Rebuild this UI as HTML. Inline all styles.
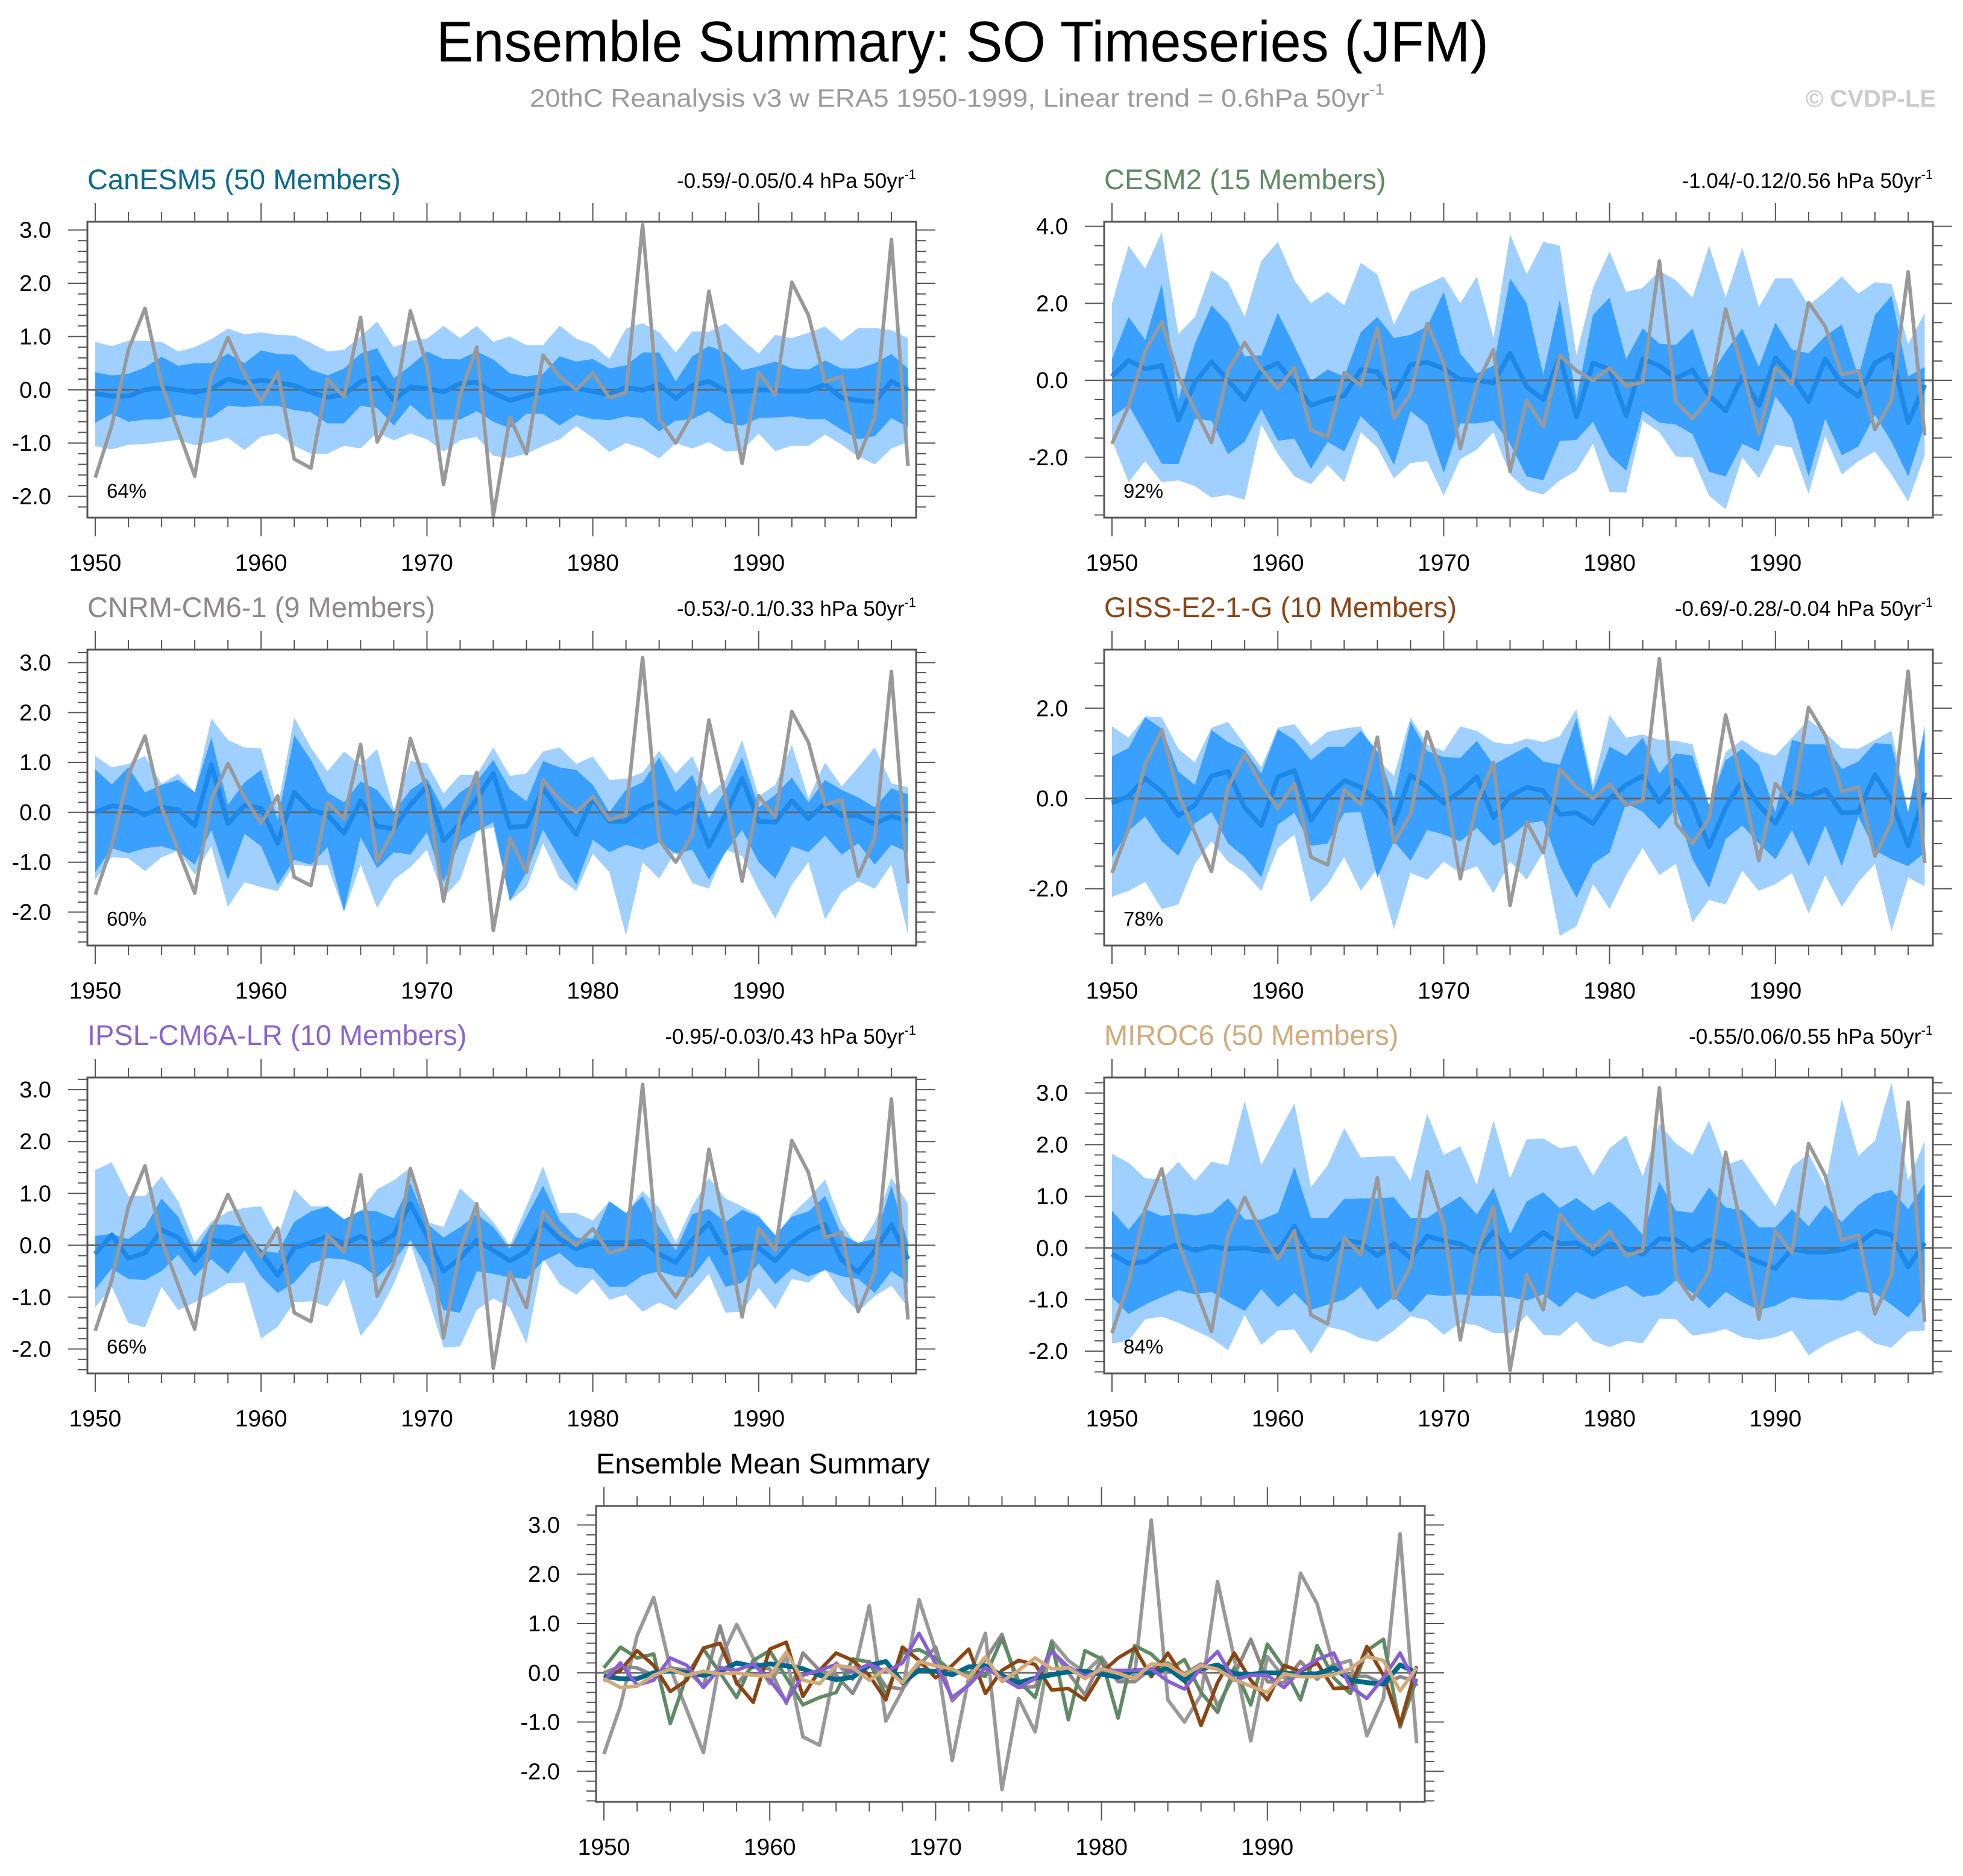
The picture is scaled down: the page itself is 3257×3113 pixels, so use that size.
<!DOCTYPE html>
<html><head><meta charset="utf-8"><style>
html,body{margin:0;padding:0;background:#fff;}
svg{display:block;font-family:"Liberation Sans",Arial,sans-serif;}
</style></head><body>
<svg id="chart" width="3257" height="3113" viewBox="0 0 3257 3113" xmlns="http://www.w3.org/2000/svg">
<rect x="0" y="0" width="3257" height="3113" fill="#fff"/>
<text x="724" y="102" font-size="96" textLength="1746" lengthAdjust="spacingAndGlyphs" fill="#000">Ensemble Summary: SO Timeseries (JFM)</text>
<text x="879" y="177" font-size="42" fill="#9a9a9a" textLength="1418" lengthAdjust="spacingAndGlyphs">20thC Reanalysis v3 w ERA5 1950-1999, Linear trend = 0.6hPa 50yr<tspan font-size="26" dy="-20">-1</tspan></text>
<text x="3212" y="177" font-size="40" font-weight="bold" fill="#cccccc" text-anchor="end">© CVDP-LE</text>
<g id="plots"></g>
</svg>
<script>
const years = [];
for (let y = 1950; y <= 1999; y++) years.push(y);

const obsValues = [-1.65,-0.67,0.75,1.53,0.1,-0.76,-1.62,0.25,0.98,0.3,-0.22,0.33,-1.3,-1.47,0.2,-0.13,1.36,-0.98,-0.35,1.48,0.45,-1.78,-0.1,0.8,-2.37,-0.52,-1.2,0.65,0.25,0.0,0.32,-0.15,-0.05,3.1,-0.55,-1.0,-0.45,1.85,0.3,-1.38,0.33,-0.1,2.02,1.4,0.15,0.25,-1.28,-0.52,2.82,-1.43];

const canMean = [-0.07,-0.12,-0.12,0.0,0.04,0.0,-0.05,0.02,0.2,0.13,0.18,0.14,0.08,-0.05,-0.14,-0.09,0.15,0.23,-0.2,0.05,0.03,-0.04,0.12,0.14,-0.06,-0.2,-0.11,-0.04,0.02,0.03,-0.03,-0.09,0.05,-0.01,0.1,-0.16,0.08,0.16,-0.02,-0.03,0.0,-0.01,-0.03,-0.02,0.1,-0.15,-0.2,-0.23,0.16,0.0];
const canInHi = [0.33,0.27,0.3,0.42,0.62,0.45,0.5,0.5,0.68,0.5,0.74,0.67,0.66,0.38,0.27,0.4,0.68,0.78,0.22,0.45,0.72,0.58,0.57,0.72,0.57,0.31,0.25,0.3,0.63,0.53,0.58,0.4,0.46,0.7,0.7,0.16,0.63,0.82,0.7,0.37,0.44,0.53,0.4,0.38,0.55,0.4,0.4,0.5,0.67,0.4];
const canInLo = [-0.62,-0.45,-0.6,-0.56,-0.55,-0.47,-0.53,-0.52,-0.3,-0.32,-0.3,-0.3,-0.38,-0.42,-0.63,-0.63,-0.3,-0.34,-0.67,-0.28,-0.55,-0.56,-0.56,-0.4,-0.6,-0.72,-0.45,-0.45,-0.67,-0.47,-0.55,-0.57,-0.5,-0.53,-0.78,-0.58,-0.55,-0.4,-0.62,-0.67,-0.53,-0.52,-0.5,-0.55,-0.55,-0.75,-0.93,-0.87,-0.53,-0.7];
const canOutHi = [0.9,0.82,0.92,0.92,0.9,0.72,0.8,0.95,1.15,1.04,1.08,1.03,1.02,0.88,0.72,0.75,1.0,1.28,0.8,0.92,0.96,1.2,0.97,1.2,0.9,1.0,0.84,0.84,1.2,0.96,0.85,0.58,1.15,1.25,1.08,0.7,1.1,1.09,1.25,0.95,0.68,1.03,0.97,1.07,1.19,0.92,1.16,1.16,1.12,0.97];
const canOutLo = [-1.06,-1.12,-1.03,-1.02,-0.98,-0.94,-1.04,-0.98,-0.9,-1.13,-0.88,-0.82,-1.05,-1.2,-1.2,-1.05,-1.1,-0.8,-0.95,-0.82,-0.93,-1.16,-0.95,-0.88,-1.24,-1.28,-1.2,-1.05,-0.93,-0.68,-0.9,-1.17,-1.0,-1.1,-1.29,-1.0,-1.1,-0.98,-1.16,-1.14,-0.82,-1.15,-1.05,-1.05,-0.84,-1.03,-1.25,-1.4,-1.1,-0.98];

const cesmMean = [0.1,0.52,0.3,0.38,-1.03,-0.05,0.48,0.0,-0.5,0.25,0.45,-0.1,-0.65,-0.5,-0.4,0.28,0.22,-0.45,0.4,0.47,0.3,0.02,0.0,-0.07,0.7,-0.17,-0.5,0.62,-0.95,0.45,0.28,-0.92,0.55,0.38,0.05,0.27,-0.4,-0.8,0.1,-0.65,0.58,0.1,-0.55,0.55,-0.1,-0.42,0.45,0.68,-1.1,-0.12];
const cesmInHi = [0.55,1.65,1.05,2.5,-0.5,0.95,1.95,1.5,0.62,0.65,1.75,0.9,-0.02,0.28,0.1,1.25,1.65,1.1,1.18,1.4,2.3,0.7,0.18,0.38,2.65,2.0,0.15,2.1,-0.5,1.7,2.15,0.55,1.35,0.95,0.92,1.35,0.05,0.75,1.35,0.35,1.5,0.8,0.7,1.15,1.45,0.1,1.7,2.2,0.1,0.35];
const cesmInLo = [-0.95,-0.65,-1.4,-2.17,-2.18,-1.0,-1.05,-1.92,-1.6,-0.75,-1.57,-1.52,-2.3,-1.6,-1.85,-0.93,-1.35,-2.2,-0.8,-1.15,-2.4,-1.12,-1.12,-1.05,-1.65,-2.5,-2.6,-1.58,-1.55,-1.08,-1.95,-2.35,-0.8,-1.1,-1.15,-1.4,-2.38,-2.5,-1.65,-1.85,-0.42,-1.0,-2.5,-1.0,-1.95,-1.72,-0.9,-1.6,-2.5,-1.15];
const cesmOutHi = [2.0,3.5,2.9,3.85,1.2,1.65,2.85,2.55,1.65,3.1,3.6,2.6,2.0,2.3,1.95,3.05,2.75,1.45,2.3,2.5,2.7,2.0,2.7,1.1,3.8,2.75,3.6,3.5,0.65,2.4,3.35,2.3,2.4,2.85,2.6,2.15,3.5,2.15,3.45,1.9,2.65,2.65,1.95,2.3,2.7,2.25,2.55,2.5,0.95,1.75];
const cesmOutLo = [-1.55,-2.65,-2.1,-2.65,-2.6,-2.75,-3.05,-2.98,-3.1,-1.15,-1.92,-2.5,-2.7,-2.2,-2.65,-1.35,-1.75,-2.55,-2.15,-2.1,-3.0,-2.05,-1.8,-1.35,-2.45,-2.85,-2.97,-2.6,-2.35,-1.65,-2.9,-2.92,-1.05,-1.35,-1.98,-2.0,-3.0,-3.35,-2.0,-2.55,-1.68,-1.75,-2.95,-1.45,-2.45,-2.1,-1.85,-2.45,-3.15,-1.95];

const cnrmMean = [0.0,0.13,0.1,-0.05,0.1,0.05,-0.27,0.95,-0.23,0.14,0.08,-0.62,0.4,0.05,-0.05,-0.42,0.23,-0.28,-0.33,0.15,0.52,-0.57,-0.23,0.27,0.78,-0.3,-0.28,0.48,0.0,-0.45,0.28,-0.18,-0.18,0.08,0.2,-0.02,0.18,-0.68,-0.05,0.68,-0.18,-0.2,0.23,-0.13,0.18,-0.07,-0.07,-0.23,-0.08,-0.17];
const cnrmInHi = [0.86,0.56,0.9,0.4,0.55,0.65,0.4,1.5,0.15,0.6,0.85,-0.15,1.55,1.05,0.4,0.2,0.62,0.45,0.0,0.45,0.68,0.05,0.4,0.62,1.05,0.47,0.22,1.03,0.9,0.85,0.55,0.0,0.45,0.6,1.1,0.4,0.75,-0.12,0.45,1.1,0.1,0.35,0.7,0.2,0.65,0.45,0.3,0.1,0.48,0.36];
const cnrmInLo = [-1.2,-0.72,-0.82,-0.72,-0.68,-0.78,-1.05,-0.35,-1.35,-0.43,-0.68,-1.45,-0.95,-1.05,-0.7,-1.98,-0.5,-1.12,-0.8,-0.85,-0.4,-1.4,-0.58,-0.38,-0.2,-1.78,-1.2,-0.35,-0.92,-1.45,-0.55,-0.8,-0.65,-0.75,-0.6,-0.83,-0.75,-1.35,-0.8,-0.35,-1.0,-1.33,-0.68,-0.8,-0.47,-0.85,-0.62,-1.05,-0.65,-0.8];
const cnrmOutHi = [1.13,0.9,0.97,1.13,0.57,0.77,0.4,1.88,1.45,1.3,1.28,0.1,1.9,1.3,0.82,1.22,0.95,1.27,0.05,1.03,0.98,0.38,0.75,0.75,1.3,0.73,0.78,1.22,1.3,0.97,1.12,0.65,0.67,0.8,1.23,0.78,1.13,0.35,0.65,1.45,0.32,0.55,1.35,0.28,1.0,0.52,0.9,1.3,0.58,0.5];
const cnrmOutLo = [-1.35,-0.9,-0.92,-1.18,-0.9,-0.77,-1.25,-0.68,-1.9,-1.4,-1.5,-1.58,-1.05,-1.08,-1.05,-2.0,-1.05,-1.92,-1.35,-1.1,-0.75,-1.7,-1.35,-0.38,-0.3,-1.78,-1.5,-0.62,-1.32,-1.58,-0.83,-1.2,-2.47,-1.0,-1.33,-0.78,-1.42,-1.53,-0.75,-0.88,-1.55,-2.13,-1.45,-1.0,-2.15,-1.6,-1.38,-1.53,-1.05,-2.45];

const gissMean = [-0.1,0.05,0.45,0.15,-0.38,-0.15,0.5,0.6,-0.2,-0.6,0.48,0.62,-0.48,0.05,0.4,0.25,-0.05,-0.55,0.52,0.25,-0.1,0.15,0.48,-0.42,0.05,0.25,0.17,-0.35,-0.32,-0.55,0.0,0.3,0.5,-0.08,0.4,-0.12,-1.07,-0.2,0.4,-0.15,-0.55,0.15,0.03,0.2,-0.32,-0.3,0.53,-0.05,-1.05,0.13];
const gissInHi = [0.93,1.12,1.8,1.55,0.6,0.3,1.52,1.25,1.08,0.55,1.53,1.3,0.85,1.15,1.15,1.5,1.05,0.0,1.7,1.05,0.92,0.9,1.28,0.75,0.95,1.15,0.82,0.75,1.78,0.15,1.15,0.95,1.35,0.55,1.0,0.95,-0.15,0.85,1.1,0.75,-0.3,1.3,1.2,1.2,0.65,0.82,1.23,1.2,-0.3,1.55];
const gissInLo = [-1.3,-0.72,-0.4,-0.95,-1.27,-0.55,-0.3,-1.0,-1.3,-1.75,-0.58,-0.32,-1.05,-1.0,-0.32,-0.3,-1.75,-0.95,-1.38,-0.7,-0.8,-0.95,-0.65,-1.05,-0.85,-0.55,-0.5,-1.5,-2.2,-1.45,-1.2,-0.1,-0.3,-0.68,-0.22,-1.35,-1.98,-0.9,-0.6,-1.0,-1.35,-0.7,-1.5,-0.6,-1.5,-0.4,-1.15,-1.35,-1.5,-1.2];
const gissOutHi = [1.6,1.35,1.82,1.8,1.1,0.8,1.57,1.7,1.2,0.7,1.57,1.65,1.18,1.48,1.55,1.6,0.87,0.5,1.8,1.2,1.05,1.6,1.5,1.25,1.2,1.33,1.25,1.38,1.98,0.3,1.85,1.35,1.42,1.3,1.28,1.2,-0.15,1.03,1.3,1.05,0.95,1.35,1.75,1.45,1.12,1.1,1.3,1.5,-0.3,1.65];
const gissOutLo = [-2.18,-2.05,-1.85,-2.45,-2.35,-1.45,-0.95,-1.4,-1.65,-2.05,-1.1,-0.8,-2.3,-1.9,-1.3,-2.05,-1.55,-2.9,-1.65,-1.8,-1.4,-1.65,-1.5,-2.1,-1.4,-1.8,-1.2,-3.05,-2.83,-1.9,-2.45,-1.7,-1.1,-1.7,-1.45,-2.75,-2.25,-2.35,-1.6,-2.05,-1.9,-1.65,-2.55,-1.7,-2.4,-1.85,-1.45,-2.95,-1.75,-1.95];

const ipslMean = [-0.17,0.2,-0.25,-0.15,0.3,0.15,-0.3,0.1,0.05,0.18,-0.15,-0.58,-0.05,0.05,0.17,0.03,0.17,0.02,0.2,0.8,0.18,-0.5,-0.25,0.1,-0.1,-0.3,-0.12,0.43,0.12,-0.07,0.05,0.05,0.05,0.08,-0.17,-0.33,0.1,0.43,-0.15,-0.05,-0.05,-0.3,0.05,0.27,0.4,-0.28,-0.52,-0.1,0.4,-0.27];
const ipslInHi = [0.18,0.22,0.12,0.35,0.9,0.55,-0.15,0.4,0.4,0.35,-0.1,-0.15,0.45,0.65,0.75,0.5,0.67,0.65,0.52,1.2,0.42,0.15,0.35,0.6,0.35,-0.07,0.55,1.15,0.48,0.15,0.13,0.85,0.62,0.95,0.35,-0.1,0.6,0.7,0.45,0.68,0.55,0.2,0.55,0.65,0.95,0.2,0.05,0.12,1.15,0.05];
const ipslInLo = [-0.85,-0.45,-0.65,-0.67,-0.5,-0.18,-0.6,-0.27,-0.55,-0.1,-0.6,-0.92,-0.72,-0.35,-0.25,-0.27,-0.38,-0.62,-0.3,0.1,-0.42,-1.25,-1.3,-0.5,-0.55,-0.62,-0.65,-0.3,-0.15,-0.42,-0.45,-0.8,-0.8,-0.58,-0.5,-0.6,-0.62,-0.2,-0.8,-0.72,-0.35,-0.75,-0.45,-0.6,-0.48,-0.6,-0.65,-0.92,-0.5,-0.72];
const ipslOutHi = [1.45,1.6,0.95,0.95,1.33,0.85,0.05,0.45,0.65,0.72,0.75,0.15,1.08,0.75,0.75,0.45,0.65,1.08,1.25,1.5,0.45,0.35,1.1,0.8,0.45,0.0,0.75,1.52,0.62,0.62,0.48,0.85,0.62,1.05,0.72,0.05,0.75,1.3,0.9,0.75,0.58,0.15,0.6,0.9,1.27,0.42,-0.05,0.45,1.3,0.8];
const ipslOutLo = [-1.2,-0.8,-1.5,-1.58,-0.8,-1.25,-1.1,-0.92,-0.73,-0.72,-1.8,-1.57,-1.1,-1.08,-1.18,-0.65,-1.75,-1.35,-0.75,0.05,-0.95,-1.97,-1.95,-1.25,-1.02,-1.2,-1.9,-0.25,-0.75,-0.95,-0.65,-1.05,-0.95,-1.28,-1.1,-1.25,-0.92,-0.55,-1.3,-1.28,-0.82,-1.23,-0.65,-0.72,-0.45,-0.95,-1.28,-0.98,-0.78,-1.2];

const mirocMean = [-0.12,-0.3,-0.27,-0.05,0.07,-0.05,0.03,-0.02,0.0,-0.05,-0.07,0.42,-0.15,-0.22,0.15,0.1,-0.15,0.08,-0.2,0.23,0.14,0.08,-0.1,0.32,-0.18,0.05,0.3,0.08,0.1,-0.12,0.08,-0.01,-0.12,0.18,0.16,-0.05,0.15,0.07,-0.14,-0.27,-0.4,-0.02,-0.08,-0.08,-0.04,0.08,0.33,0.25,-0.37,0.1];
const mirocInHi = [0.72,0.35,0.75,0.62,0.67,0.63,0.68,0.96,0.55,0.55,0.68,1.57,0.58,0.58,0.95,0.96,0.96,0.98,0.58,0.58,0.8,1.0,0.65,1.17,0.27,0.9,1.08,0.77,0.97,0.72,0.9,0.62,0.25,1.28,0.72,0.68,1.17,0.78,0.73,0.4,0.4,0.75,0.42,0.83,0.5,0.83,1.05,1.12,0.75,1.25];
const mirocInLo = [-0.95,-1.28,-1.1,-0.95,-0.82,-0.9,-0.85,-1.05,-1.22,-0.8,-1.15,-0.87,-1.2,-1.1,-1.0,-0.75,-1.2,-0.95,-1.25,-0.9,-0.93,-0.9,-0.93,-0.93,-0.95,-1.02,-0.9,-1.15,-0.85,-1.0,-0.85,-0.73,-0.95,-0.9,-0.63,-0.87,-1.17,-0.85,-1.05,-1.2,-1.12,-0.95,-1.0,-1.0,-1.02,-0.85,-0.88,-1.1,-1.35,-0.95];
const mirocOutHi = [1.82,1.65,1.35,1.33,1.67,1.3,1.67,1.6,2.85,1.6,2.2,2.8,1.18,1.6,2.32,1.75,1.77,1.78,1.3,2.6,1.8,1.97,1.22,2.47,1.35,2.1,2.12,1.93,1.98,1.4,1.93,2.18,1.38,2.4,2.02,1.8,2.47,1.6,1.72,1.25,0.8,1.57,1.83,1.2,2.88,1.78,2.08,3.2,1.3,2.07];
const mirocOutLo = [-1.85,-1.8,-1.38,-1.33,-1.45,-1.6,-1.75,-1.98,-1.3,-1.88,-1.6,-1.58,-2.05,-1.53,-1.6,-1.75,-1.82,-1.6,-1.32,-1.4,-1.68,-1.45,-1.5,-1.65,-1.65,-1.3,-1.68,-1.7,-1.42,-1.8,-1.92,-1.8,-1.85,-1.37,-1.38,-1.7,-1.65,-1.57,-1.73,-1.78,-1.73,-1.6,-2.08,-1.87,-1.72,-1.6,-1.85,-1.93,-1.62,-1.6];

const xTickYears = [1950,1960,1970,1980,1990];

const NS = "http://www.w3.org/2000/svg";
const root = document.getElementById("plots");
const W = 1375, H = 491;
const C_OUT = "#a0d0ff", C_IN = "#3aa0ff", C_MEAN = "#1e88e8", C_OBS = "#999999", C_AX = "#555555";

function mk(tag, attrs, parent) {
  const e = document.createElementNS(NS, tag);
  for (const k in attrs) e.setAttribute(k, attrs[k]);
  (parent || root).appendChild(e);
  return e;
}

function makePanel(cfg) {
  const g = mk("g", {});
  
  
  const L = cfg.L, T = cfg.T;
  const xs = yr => L + 13 + (yr - 1950) * 27.52;
  const ys = v => T + (cfg.ymax - v) / (cfg.ymax - cfg.ymin) * H;
  const cid = "clip-" + cfg.name;
  const cp = mk("clipPath", {id: cid}, g);
  mk("rect", {x: L, y: T, width: W, height: H}, cp);
  const plot = mk("g", {"clip-path": "url(#" + cid + ")"}, g);

  function band(lo, hi, col, nm) {
    let d = "";
    years.forEach((yr, i) => { d += (i ? "L" : "M") + xs(yr).toFixed(1) + "," + ys(hi[i]).toFixed(1); });
    for (let i = years.length - 1; i >= 0; i--) d += "L" + xs(years[i]).toFixed(1) + "," + ys(lo[i]).toFixed(1);
    const p = mk("path", {d: d + "Z", fill: col}, plot);
    
    
  }
  function line(vals, col, w, nm) {
    let d = "";
    years.forEach((yr, i) => { d += (i ? "L" : "M") + xs(yr).toFixed(1) + "," + ys(vals[i]).toFixed(1); });
    const p = mk("path", {d: d, fill: "none", stroke: col, "stroke-width": w, "stroke-linejoin": "round"}, plot);
    
    
  }
  if (cfg.outLo) {
    band(cfg.outLo, cfg.outHi, C_OUT, "outer-spread-band");
    band(cfg.inLo, cfg.inHi, C_IN, "inner-spread-band");
  }
  const zl = mk("line", {x1: L, x2: L + W, y1: ys(0), y2: ys(0), stroke: "#666", "stroke-width": 3}, plot);
  
  
  if (cfg.outLo) {
    line(cfg.mean, C_MEAN, 8, "ensemble-mean-line");
    line(obsValues, C_OBS, 6, "observed-line");
  } else {
    line(obsValues, C_OBS, 6, "observed-line");
    cfg.series.forEach(s => line(s.vals, s.col, s.w, s.nm));
  }

  const fr = mk("rect", {x: L, y: T, width: W, height: H, fill: "none", stroke: C_AX, "stroke-width": 3}, g);
  
  

  const ax = mk("g", {stroke: C_AX, "stroke-width": 2}, g);
  
  
  for (let yr = 1950; yr <= 1998; yr += 2) {
    const major = (yr % 10 === 0);
    const len = major ? 31 : 16;
    const x = xs(yr);
    mk("line", {x1: x, x2: x, y1: T, y2: T - len}, ax);
    mk("line", {x1: x, x2: x, y1: T + H, y2: T + H + len}, ax);
  }
  xTickYears.forEach(yr => {
    const t = mk("text", {x: xs(yr), y: T + H + 88, "font-size": 39, "text-anchor": "middle", fill: "#000"}, g);
    t.textContent = yr;
    
    
  });

  const ay = mk("g", {stroke: C_AX, "stroke-width": 2}, g);
  
  
  const st = cfg.minor;
  for (let v = Math.ceil(cfg.ymin / st) * st; v <= cfg.ymax + 1e-9; v += st) {
    const vv = Math.round(v * 100) / 100;
    const major = cfg.majors.some(m => Math.abs(m - vv) < 1e-6);
    const len = major ? 32 : 16;
    const y = ys(vv);
    mk("line", {x1: L, x2: L - len, y1: y, y2: y}, ay);
    mk("line", {x1: L + W, x2: L + W + len, y1: y, y2: y}, ay);
  }
  cfg.majors.forEach(m => {
    const t = mk("text", {x: L - 60, y: ys(m) + 13, "font-size": 38, "text-anchor": "end", fill: "#000"}, g);
    t.textContent = m.toFixed(1);
    
    
  });

  const tt = mk("text", {x: L, y: T - 54, "font-size": 47, fill: cfg.color}, g);
  tt.textContent = cfg.title;
  
  
  if (cfg.trend) {
    const tr = mk("text", {x: L + W, y: T - 56, "font-size": 35, "text-anchor": "end", fill: "#000"}, g);
    
    
    const a = mk("tspan", {}, tr); a.textContent = cfg.trend + " hPa 50yr";
    const b = mk("tspan", {"font-size": 22, dy: -15}, tr); b.textContent = "-1";
    const pc = mk("text", {x: L + 32, y: T + H - 33, "font-size": 33, fill: "#000"}, g);
    pc.textContent = cfg.pct;
    
    
  }
}

const maj6 = [-2,-1,0,1,2,3];
makePanel({name:"canesm5", L:145, T:368, ymin:-2.40, ymax:3.154, majors:maj6, minor:0.2, title:"CanESM5 (50 Members)", color:"#0a6a8c", trend:"-0.59/-0.05/0.4", pct:"64%", mean:canMean, inHi:canInHi, inLo:canInLo, outHi:canOutHi, outLo:canOutLo});
makePanel({name:"cesm2", L:1832, T:368, ymin:-3.57, ymax:4.12, majors:[-2,0,2,4], minor:0.5, title:"CESM2 (15 Members)", color:"#5f8a65", trend:"-1.04/-0.12/0.56", pct:"92%", mean:cesmMean, inHi:cesmInHi, inLo:cesmInLo, outHi:cesmOutHi, outLo:cesmOutLo});
makePanel({name:"cnrm-cm6-1", L:145, T:1078, ymin:-2.67, ymax:3.26, majors:maj6, minor:0.2, title:"CNRM-CM6-1 (9 Members)", color:"#8e8888", trend:"-0.53/-0.1/0.33", pct:"60%", mean:cnrmMean, inHi:cnrmInHi, inLo:cnrmInLo, outHi:cnrmOutHi, outLo:cnrmOutLo});
makePanel({name:"giss-e2-1-g", L:1832, T:1078, ymin:-3.26, ymax:3.30, majors:[-2,0,2], minor:0.5, title:"GISS-E2-1-G (10 Members)", color:"#8b4513", trend:"-0.69/-0.28/-0.04", pct:"78%", mean:gissMean, inHi:gissInHi, inLo:gissInLo, outHi:gissOutHi, outLo:gissOutLo});
makePanel({name:"ipsl-cm6a-lr", L:145, T:1788, ymin:-2.47, ymax:3.234, majors:maj6, minor:0.2, title:"IPSL-CM6A-LR (10 Members)", color:"#8a63d2", trend:"-0.95/-0.03/0.43", pct:"66%", mean:ipslMean, inHi:ipslInHi, inLo:ipslInLo, outHi:ipslOutHi, outLo:ipslOutLo});
makePanel({name:"miroc6", L:1832, T:1788, ymin:-2.43, ymax:3.30, majors:maj6, minor:0.2, title:"MIROC6 (50 Members)", color:"#d2aa7a", trend:"-0.55/0.06/0.55", pct:"84%", mean:mirocMean, inHi:mirocInHi, inLo:mirocInLo, outHi:mirocOutHi, outLo:mirocOutLo});
makePanel({name:"ensemble-mean-summary", L:989, T:2499, ymin:-2.62, ymax:3.385, majors:maj6, minor:0.2, title:"Ensemble Mean Summary", color:"#000",
  series:[
    {vals:cnrmMean, col:"#8f898c", w:6, nm:"cnrm-mean-line"},
    {vals:cesmMean, col:"#5f8a65", w:6, nm:"cesm2-mean-line"},
    {vals:gissMean, col:"#8b4513", w:6, nm:"giss-mean-line"},
    {vals:canMean, col:"#00688b", w:8, nm:"canesm5-mean-line"},
    {vals:ipslMean, col:"#8a5fd6", w:6, nm:"ipsl-mean-line"},
    {vals:mirocMean, col:"#d2aa7a", w:6, nm:"miroc6-mean-line"}
  ]});
</script>
</body></html>
